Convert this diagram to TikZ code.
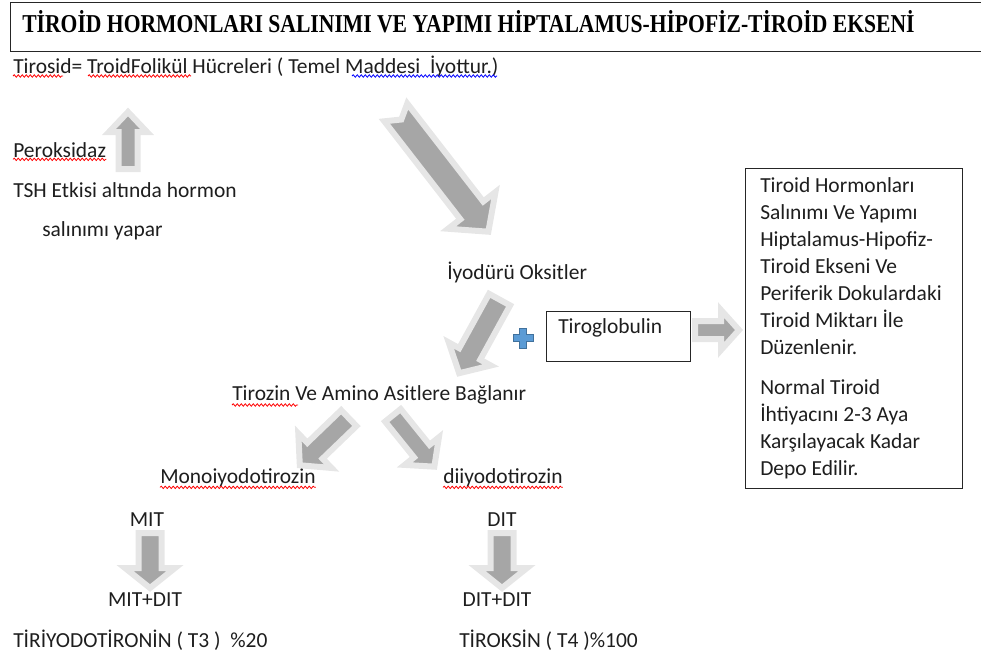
\documentclass[tikz,border=0pt]{standalone}
\usepackage{fontspec}
\setmainfont{Carlito}
\newfontfamily\titlefont{Liberation Serif}
\usetikzlibrary{decorations.pathmorphing}

\definecolor{arrowgray}{HTML}{A6A6A6}
\definecolor{arrowrim}{HTML}{E6E6E6}
\definecolor{plusblue}{HTML}{5B9BD5}
\definecolor{plusedge}{HTML}{41719C}
\definecolor{inktext}{HTML}{1E1E1E}

\newcommand\bodysize{\fontsize{16.1pt}{20.25pt}\selectfont}

% block arrow: length, shaft half width, head half width, head length, notch
\tikzset{
  pics/blockarrow/.style n args={5}{code={
    \draw [fill=arrowgray, draw=arrowrim, line width=4.5pt] (0,-#2) -- ({#1-#4},-#2) -- ({#1-#4},-#3) -- (#1,0) -- ({#1-#4},#3) -- ({#1-#4},#2) -- (0,#2) -- (#5,0) -- cycle;
  }}
}

\begin{document}
\begin{tikzpicture}[x=0.75pt, y=-0.75pt,
    txt/.style={inner sep=0pt, anchor=west, font=\bodysize, text=inktext},
    ctxt/.style={inner sep=0pt, font=\bodysize, text=inktext},
    framebox/.style={draw=black!85, line width=1.1pt, anchor=north west, inner sep=0pt},
    squig/.style={draw=red, line width=0.6pt, decorate, decoration={snake, segment length=3pt, amplitude=0.9pt}}]
  \useasboundingbox (0,0) rectangle (981,653);

  % title
  \node [framebox, minimum width=740pt, minimum height=36.75pt](tbox) at (10,2) {};
  \node [txt, font=\titlefont\bfseries\fontsize{19.3pt}{21pt}\selectfont, text=black](ttl) at (22,22) {\scalebox{0.84}[1]{TİROİD HORMONLARI SALINIMI VE YAPIMI HİPTALAMUS-HİPOFİZ-TİROİD EKSENİ}};
  \node [txt](tirosid) at (13,66) {Tirosid= TroidFolikül Hücreleri ( Temel Maddesi\ \ İyottur.)};

  % left column
  \node [txt](perok) at (13,150) {Peroksidaz};
  \node [txt](tsh) at (13,190) {TSH Etkisi altında hormon};
  \node [txt](salin) at (42,231) {salınımı yapar};

  % middle
  \node [txt](iyod) at (447,272) {İyodürü Oksitler};
  \node [framebox, minimum width=108pt, minimum height=37.5pt](tgbox) at (546,311) {};
  \node [txt](tglob) at (558,328) {Tiroglobulin};
  \node [txt](tirz) at (232,395) {Tirozin Ve Amino Asitlere Bağlanır};
  \node [txt](mono) at (160,478) {Monoiyodotirozin};
  \node [txt](diiyod) at (443,478) {diiyodotirozin};
  \node [ctxt](mit) at (147,520) {MIT};
  \node [ctxt](dit) at (502,520) {DIT};
  \node [ctxt](mitdit) at (145,600) {MIT+DIT};
  \node [ctxt](ditdit) at (497,600) {DIT+DIT};
  \node [txt](tthree) at (13,640) {TİRİYODOTİRONİN ( T3 )\ \ \%20};
  \node [txt](tfour) at (459,640) {TİROKSİN ( T4 )\%100};

  % right box
  \node [framebox, minimum width=162.75pt, minimum height=240pt](infobox) at (745,168) {};
  \node [txt, anchor=north west, align=left](info) at (760,177) {Tiroid Hormonları\\Salınımı Ve Yapımı\\Hiptalamus-Hipofiz-\\Tiroid Ekseni Ve\\Periferik Dokulardaki\\Tiroid Miktarı İle\\Düzenlenir.\\[9.75pt]Normal Tiroid\\İhtiyacını 2-3 Aya\\Karşılayacak Kadar\\Depo Edilir.};

  % spell check squiggles
  \draw [squig] (13,76) -- (63,76);
  \draw [squig] (88,76) -- (191,76);
  \draw [squig, draw=blue] (352,76) -- (497,76);
  \draw [squig] ([yshift=-7pt]perok.west) -- ([yshift=-7pt]perok.east);
  \draw [squig] (232,405) -- (298,405);
  \draw [squig] ([yshift=-7pt]mono.west) -- ([yshift=-7pt]mono.east);
  \draw [squig] ([yshift=-7pt]diiyod.west) -- ([yshift=-7pt]diiyod.east);

  % block arrows
  \pic [rotate=90] at (128,169) {blockarrow={57}{9.5}{19}{20}{0}};
  \pic [rotate=-52.2] at (395.8,112.4) {blockarrow={151}{14.5}{30}{27}{9}};
  \pic [rotate=-118.8] at (499.6,299.6) {blockarrow={84}{12}{24}{22}{0}};
  \pic at (695,330) {blockarrow={44}{9}{20}{18}{0}};
  \pic [rotate=-136.1] at (348.8,418.1) {blockarrow={68}{11}{24}{21}{0}};
  \pic [rotate=-51.1] at (392.9,415.3) {blockarrow={66}{10}{22}{20}{0}};
  \pic [rotate=-90] at (150,533) {blockarrow={55}{11.5}{25}{20}{0}};
  \pic [rotate=-90] at (502,533) {blockarrow={55}{11.5}{25}{20}{0}};

  % plus sign
  \draw [fill=plusblue, draw=plusedge, line width=0.6pt] (519.5,328) -- (526.5,328) -- (526.5,334.5) -- (533,334.5) -- (533,341.5) -- (526.5,341.5) -- (526.5,348) -- (519.5,348) -- (519.5,341.5) -- (513,341.5) -- (513,334.5) -- (519.5,334.5) -- cycle;
\end{tikzpicture}
\end{document}
